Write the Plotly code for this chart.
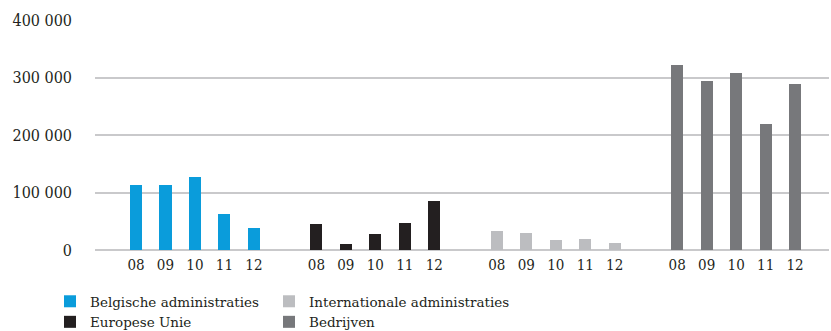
import plotly.graph_objects as go

years = ["08", "09", "10", "11", "12"]
series_names = ["Belgische administraties", "Europese Unie", "Internationale administraties", "Bedrijven"]
belgische = [113000, 113000, 127000, 63000, 38000]
europese = [45000, 10000, 28000, 47000, 85000]
internationale = [33000, 30000, 17000, 19000, 12000]
bedrijven = [322000, 294000, 308000, 219000, 289000]
colors = ["#0a9cdb", "#231f20", "#bcbdc0", "#77787b"]
y_ticks = [0, 100000, 200000, 300000, 400000]

values = [belgische, europese, internationale, bedrijven]
legends = ["legend", "legend", "legend2", "legend2"]
GROUP_STEP = 6.12

fig = go.Figure()
tickvals, ticktext = [], []
for g, (name, vals, col, lg) in enumerate(zip(series_names, values, colors, legends)):
    xs = [g * GROUP_STEP + i for i in range(len(years))]
    tickvals += xs
    ticktext += years
    fig.add_trace(go.Bar(x=xs, y=vals, name=name, marker=dict(color=col, line=dict(width=0)),
                         width=0.41, legend=lg))

PLOT_L, PLOT_R, PLOT_T, PLOT_B = 95, 829, 20, 250
def px_x(p):
    return (p - PLOT_L) / (PLOT_R - PLOT_L)
def px_y(p):
    return (PLOT_B - p) / (PLOT_B - PLOT_T)

FONT = "DejaVu Serif Condensed, DejaVu Serif"
LEG_FONT = "DejaVu Serif"
fig.update_layout(
    width=831, height=331,
    margin=dict(l=PLOT_L, r=831 - PLOT_R, t=PLOT_T, b=331 - PLOT_B, autoexpand=False),
    paper_bgcolor="white", plot_bgcolor="white",
    separators=", ",
    font=dict(family=FONT, size=15, color="#231f20"),
    xaxis=dict(range=[-1.39, 3 * GROUP_STEP + 4 + 1.15], tickvals=tickvals, ticktext=ticktext,
               showgrid=False, zeroline=False, showline=False, ticks="", automargin=False,
               ticklabelstandoff=4, tickfont=dict(family=FONT, size=15)),
    yaxis=dict(range=[0, 400000], tickvals=y_ticks, tickformat=",d", showgrid=True,
               gridcolor="#c9c9cb", gridwidth=1.5, zeroline=True, zerolinecolor="#c9c9cb",
               zerolinewidth=1.5, ticks="", ticklabelstandoff=22, automargin=False,
               tickfont=dict(family=FONT, size=16)),
    showlegend=True,
    legend=dict(x=px_x(50), y=px_y(286), yanchor="top", xanchor="left",
                orientation="v", font=dict(family=LEG_FONT, size=13.5), itemwidth=30,
                tracegroupgap=0, bgcolor="rgba(0,0,0,0)"),
    legend2=dict(x=px_x(269), y=px_y(286), yanchor="top", xanchor="left",
                 orientation="v", font=dict(family=LEG_FONT, size=13.5), itemwidth=30,
                 tracegroupgap=0, bgcolor="rgba(0,0,0,0)"),
    bargap=0,
)
fig.write_html("out.html")
